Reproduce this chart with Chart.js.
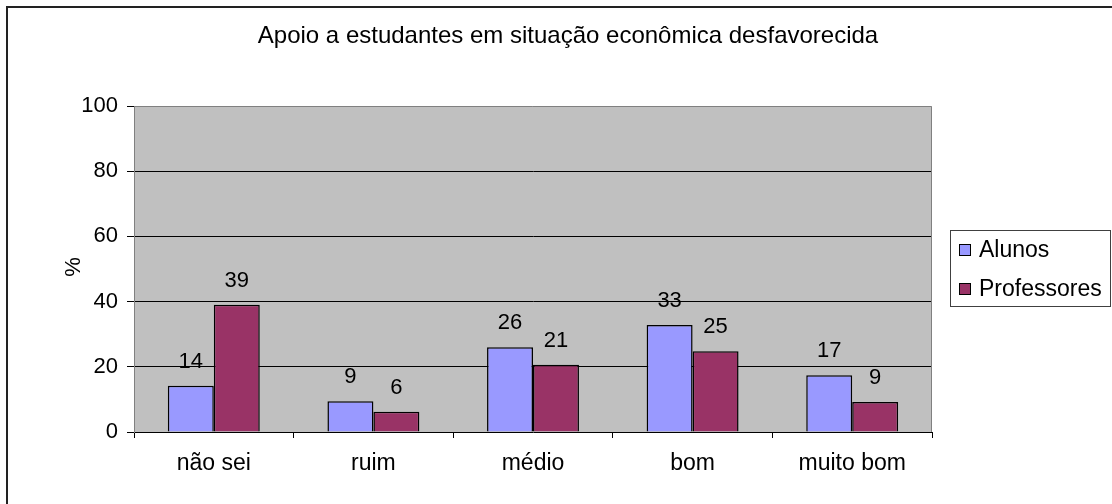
<!DOCTYPE html>
<html>
<head>
<meta charset="utf-8">
<script src="https://cdn.jsdelivr.net/npm/chart.js@4"></script>
<style>
  html, body { margin: 0; padding: 0; background: #fff; }
  #wrap { width: 1112px; height: 504px; }
</style>
</head>
<body>
<div id="wrap"><canvas id="grafico" width="1112" height="504"></canvas></div>
<script>
const titulo = 'Apoio a estudantes em situação econômica desfavorecida'
const categorias = ['não sei', 'ruim', 'médio', 'bom', 'muito bom']
const alunos = [14.2, 9.4, 26, 32.8, 17.4]
const professores = [39, 6.2, 20.6, 24.8, 9.2]
const ticksY = [0, 20, 40, 60, 80, 100]
const nomesSeries = ['Alunos', 'Professores']
const cores = ['#9999FF', '#993366']

const fonte = '"Liberation Sans", Arial, sans-serif'

// fundo cinza, bordas, titulo, legenda e rotulos
const extras = {
  id: 'extras',
  beforeDraw(chart) {
    const c = chart.ctx, a = chart.chartArea
    c.save()
    c.fillStyle = '#fff'
    c.fillRect(0, 0, chart.width, chart.height)
    c.fillStyle = '#C0C0C0'
    c.fillRect(a.left, a.top, a.right - a.left, a.bottom - a.top)
    c.restore()
  },
  afterDraw(chart) {
    const c = chart.ctx, a = chart.chartArea
    c.save()
    // borda do grafico
    c.strokeStyle = '#222'
    c.lineWidth = 2
    c.beginPath()
    c.moveTo(7, 504); c.lineTo(7, 7); c.lineTo(1112, 7)
    c.stroke()
    // borda da area de plotagem
    c.strokeStyle = '#808080'
    c.lineWidth = 1
    c.beginPath()
    c.moveTo(a.left, a.top + 0.5); c.lineTo(a.right - 0.5, a.top + 0.5); c.lineTo(a.right - 0.5, a.bottom)
    c.stroke()

    // titulo
    c.fillStyle = '#000'
    c.font = '24px ' + fonte
    c.textAlign = 'center'
    c.textBaseline = 'alphabetic'
    c.fillText(titulo, 568, 43)

    // eixo Y titulo
    c.save()
    c.translate(80, 267)
    c.rotate(-Math.PI / 2)
    c.font = '22px ' + fonte
    c.fillText('%', 0, 0)
    c.restore()

    // rotulos dos valores
    c.font = '22px ' + fonte
    chart.data.datasets.forEach((ds, i) => {
      chart.getDatasetMeta(i).data.forEach((bar, j) => {
        c.fillText(String(Math.round(ds.data[j])), bar.x, bar.y - 18)
      })
    })

    // legenda
    c.strokeStyle = '#404040'
    c.strokeRect(950.5, 230.5, 160, 76)
    c.textAlign = 'left'
    c.font = '23px ' + fonte
    nomesSeries.forEach((n, i) => {
      const y = 257 + i * 39
      c.fillStyle = cores[i]
      c.fillRect(959, y - 13, 12, 12)
      c.strokeStyle = '#000'
      c.strokeRect(959.5, y - 12.5, 11, 11)
      c.fillStyle = '#000'
      c.fillText(n, 979, y)
    })
    c.restore()
  }
}

new Chart(document.getElementById('grafico'), {
  type: 'bar',
  data: {
    labels: categorias,
    datasets: [
      { label: nomesSeries[0], data: alunos, backgroundColor: cores[0], borderColor: '#000', borderWidth: 1.5 },
      { label: nomesSeries[1], data: professores, backgroundColor: cores[1], borderColor: '#000', borderWidth: 1.5 }
    ]
  },
  options: {
    responsive: false,
    animation: false,
    devicePixelRatio: 1,
    layout: { padding: { top: 106, right: 180, left: 0, bottom: 0 } },
    datasets: { bar: { categoryPercentage: 0.576, barPercentage: 1 } },
    plugins: {
      legend: { display: false },
      title: { display: false },
      tooltip: { enabled: false }
    },
    scales: {
      x: {
        afterFit: (s) => { s.height = 72 },
        grid: { offset: true, drawOnChartArea: false, tickLength: 6, tickColor: '#000' },
        border: { color: '#000', width: 1 },
        ticks: { color: '#000', font: { family: fonte, size: 23 }, padding: 12, maxRotation: 0 }
      },
      y: {
        min: 0, max: 100,
        afterFit: (s) => { s.width = 134 },
        afterBuildTicks: (s) => { s.ticks = ticksY.map(v => ({ value: v })) },
        grid: {
          color: (ctx) => (ctx.tick && (ctx.tick.value === 0 || ctx.tick.value === 100)) ? 'rgba(0,0,0,0)' : '#000',
          tickLength: 7, tickColor: '#000'
        },
        border: { color: '#808080', width: 1 },
        ticks: { color: '#000', font: { family: fonte, size: 22 }, padding: 9 }
      }
    }
  },
  plugins: [extras]
})
</script>
</body>
</html>
